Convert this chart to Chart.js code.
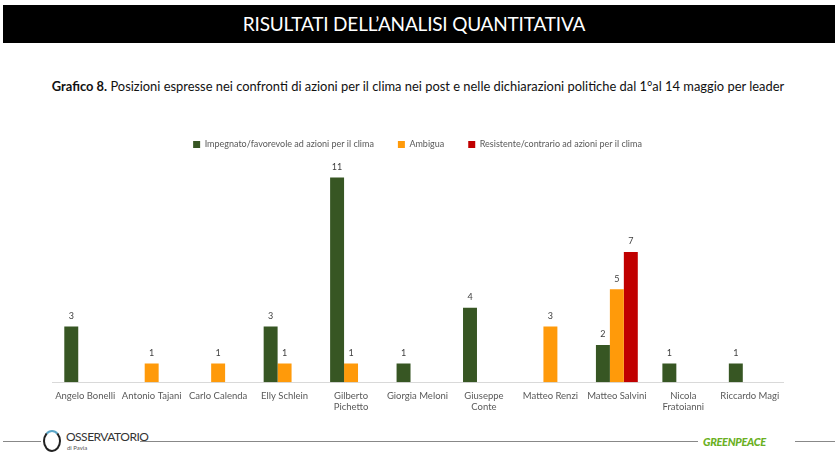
<!DOCTYPE html>
<html>
<head>
<meta charset="utf-8">
<script src="https://cdn.jsdelivr.net/npm/chart.js@4/dist/chart.umd.min.js"></script>
<style>
  body { margin: 0; width: 840px; height: 462px; background: #fff; position: relative; overflow: hidden; font-family: Lato, "Open Sans", sans-serif; }
  #header { position: absolute; left: 3px; top: 5px; width: 832px; height: 38px; background: #000; color: #fff;
    font-size: 19px; text-align: center; line-height: 38px; letter-spacing: -0.2px; }
  #header span { position: relative; left: -5px; }
  #title { position: absolute; left: 0; top: 78px; width: 836px; text-align: center; font-size: 12.9px; color: #111; }
  #wrap { position: absolute; left: 0; top: 112px; width: 840px; height: 309px; }
  .line { position: absolute; height: 1px; background: #888; top: 441px; }
  #logo { position: absolute; left: 43px; top: 430px; width: 18px; height: 22px; border: 2px solid #222; border-radius: 50%; box-sizing: border-box; border-top-color: #5aa6c8; }
  #oss { position: absolute; left: 66px; top: 429px; font-size: 12px; color: #333; letter-spacing: -0.5px; }
  #pavia { position: absolute; left: 67px; top: 444px; font-size: 6px; color: #555; }
  #gp { position: absolute; left: 703px; top: 435px; font-size: 11px; color: #6ab023; font-weight: 900; font-style: italic; letter-spacing: -0.3px; }
</style>
</head>
<body>
<div id="header"><span>RISULTATI DELL’ANALISI QUANTITATIVA</span></div>
<div id="title"><b>Grafico 8.</b> Posizioni espresse nei confronti di azioni per il clima nei post e nelle dichiarazioni politiche dal 1°al 14 maggio per leader</div>
<div id="wrap"><canvas id="chart"></canvas></div>
<div class="line" style="left:3px;width:38px"></div>
<div id="logo"></div>
<div id="oss">OSSERVATORIO</div>
<div id="pavia">di Pavia</div>
<div class="line" style="left:140px;width:558px"></div>
<div id="gp">GREENPEACE</div>
<div class="line" style="left:795px;width:40px"></div>
<script>
const leaders = ["Angelo Bonelli", "Antonio Tajani", "Carlo Calenda", "Elly Schlein", ["Gilberto", "Pichetto"],
  "Giorgia Meloni", ["Giuseppe", "Conte"], "Matteo Renzi", "Matteo Salvini", ["Nicola", "Fratoianni"], "Riccardo Magi"];
const impegnato = [3, 0, 0, 3, 11, 1, 4, 0, 2, 1, 1];
const ambigua = [0, 1, 1, 1, 1, 0, 0, 3, 5, 0, 0];
const resistente = [0, 0, 0, 0, 0, 0, 0, 0, 7, 0, 0];

// etichette dei valori sopra le barre (solo > 0)
const valueLabels = {
  id: "valueLabels",
  afterDatasetsDraw(chart) {
    const ctx = chart.ctx;
    ctx.save();
    ctx.font = "9px Lato, sans-serif";
    ctx.fillStyle = "#404040";
    ctx.textAlign = "center";
    ctx.textBaseline = "bottom";
    chart.data.datasets.forEach((ds, i) => {
      chart.getDatasetMeta(i).data.forEach((bar, j) => {
        if (ds.data[j] > 0) ctx.fillText(ds.data[j], bar.x, bar.y - 6);
      });
    });
    ctx.restore();
  },
};

new Chart(document.getElementById("chart"), {
  type: "bar",
  data: {
    labels: leaders,
    datasets: [
      { label: "Impegnato/favorevole ad azioni per il clima", data: impegnato, backgroundColor: "#375623" },
      { label: "Ambigua", data: ambigua, backgroundColor: "#FF9A0A" },
      { label: "Resistente/contrario ad azioni per il clima", data: resistente, backgroundColor: "#C00000" },
    ],
  },
  options: {
    responsive: true,
    maintainAspectRatio: false,
    animation: false,
    layout: { padding: { left: 52, right: 57, top: 4, bottom: 0 } },
    datasets: { bar: { barPercentage: 1, categoryPercentage: 0.63 } },
    plugins: {
      legend: {
        position: "top",
        labels: { boxWidth: 7, boxHeight: 7, padding: 24, color: "#595959", font: { size: 9, family: "Lato" } },
      },
      tooltip: { enabled: false },
    },
    scales: {
      y: { display: false, min: 0, max: 12 },
      x: {
        grid: { display: false, drawTicks: false },
        border: { color: "#d9d9d9" },
        ticks: { color: "#595959", font: { size: 9.5, family: "Lato" }, padding: 8, maxRotation: 0, autoSkip: false },
      },
    },
  },
  plugins: [valueLabels],
});
</script>
</body>
</html>
